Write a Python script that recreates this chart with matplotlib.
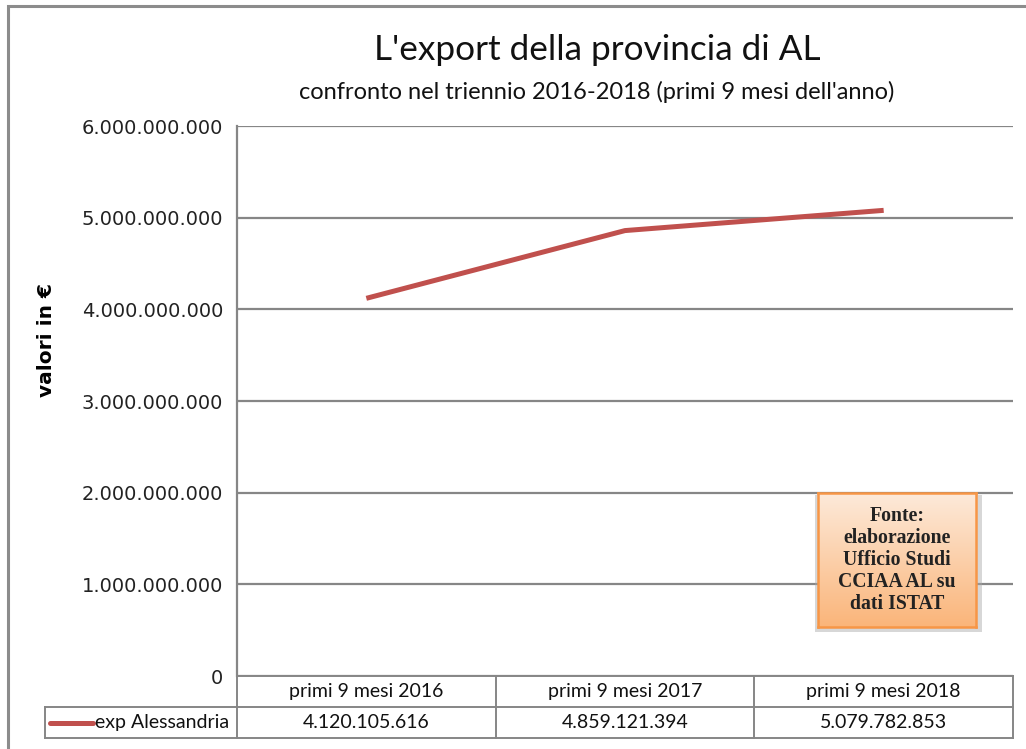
import matplotlib
matplotlib.use("Agg")
import matplotlib.pyplot as plt
import numpy as np
from matplotlib.lines import Line2D
from matplotlib.patches import Rectangle

categories = ["primi 9 mesi 2016", "primi 9 mesi 2017", "primi 9 mesi 2018"]
values = [4120105616, 4859121394, 5079782853]
value_labels = ["4.120.105.616", "4.859.121.394", "5.079.782.853"]
series_name = "exp Alessandria"
y_ticks = [0, 1e9, 2e9, 3e9, 4e9, 5e9, 6e9]
y_tick_labels = ["0", "1.000.000.000", "2.000.000.000", "3.000.000.000",
                 "4.000.000.000", "5.000.000.000", "6.000.000.000"]

W, H = 1026, 749
fig = plt.figure(figsize=(W / 100, H / 100), dpi=100)

def fx(px):
    return px / W

def fy(py):
    return 1 - py / H

narrow = ['Lato', 'DejaVu Sans']
grid_c = '#868686'
line_c = '#C0504D'

# outer chart border
fig.patches.append(Rectangle((fx(8), fy(760)), fx(1040) - fx(8), fy(6) - fy(760),
                             transform=fig.transFigure, fill=False,
                             edgecolor='#8c8c8c', lw=2.2, zorder=0))

x0, x1, ytop, ybot = 237, 1013, 126, 676
ax = fig.add_axes([fx(x0), fy(ybot), fx(x1) - fx(x0), fy(ytop) - fy(ybot)])
xs = np.arange(len(categories))
ax.plot(xs, values, color=line_c, lw=3.6, solid_capstyle='butt', solid_joinstyle='round', zorder=3)
ax.set_xlim(-0.5, len(categories) - 0.5)
ax.set_ylim(0, 6e9)
ax.set_yticks(y_ticks)
ax.set_yticklabels(y_tick_labels, fontsize=14, color='#222222', family='DejaVu Sans')
ax.set_xticks([])
for y in y_ticks:
    ax.axhline(y, color=grid_c, lw=1.6, zorder=1)
for s in ['top', 'right', 'bottom']:
    ax.spines[s].set_visible(False)
ax.spines['left'].set_color(grid_c)
ax.spines['left'].set_linewidth(1.6)
ax.tick_params(axis='y', length=0, pad=10)
ax.set_ylabel("valori in €", fontsize=14.5, fontweight='bold', family='DejaVu Sans')
ax.yaxis.set_label_coords((56 - x0) / (x1 - x0), 1 - (340 - ytop) / (ybot - ytop))

# data table
def fline(xa, xb, ya, yb, **kw):
    fig.add_artist(Line2D([fx(xa), fx(xb)], [fy(ya), fy(yb)], transform=fig.transFigure,
                          color=grid_c, lw=1.4, **kw))

row1_top, row2_top, row2_bot = 676, 707, 738
leg_left = 45
fline(x0, x0, ybot, row2_bot)
fline(x0, x1, row1_top, row1_top)
fline(leg_left, x1, row2_top, row2_top)
fline(leg_left, x1, row2_bot, row2_bot)
fline(leg_left, leg_left, row2_top, row2_bot)
col_w = (x1 - x0) / len(categories)
for i in range(1, len(categories) + 1):
    xc = x0 + i * col_w
    fline(xc, xc, row1_top, row2_bot)
for i, (c, v) in enumerate(zip(categories, value_labels)):
    xc = x0 + (i + 0.5) * col_w
    fig.text(fx(xc), fy((row1_top + row2_top) / 2), c, ha='center', va='center',
             fontsize=14, family=narrow, color='#111111')
    fig.text(fx(xc), fy((row2_top + row2_bot) / 2), v, ha='center', va='center',
             fontsize=14, family=narrow, color='#111111')
ly = (row2_top + row2_bot) / 2
fig.add_artist(Line2D([fx(50), fx(93)], [fy(ly), fy(ly)], transform=fig.transFigure,
                      color=line_c, lw=3.6, solid_capstyle='round'))
fig.text(fx(95), fy(ly), series_name, ha='left', va='center', fontsize=14,
         family=narrow, color='#111111')

# titles
fig.text(fx(597), fy(50), "L'export della provincia di AL", ha='center', va='center',
         fontsize=25.3, family=narrow, color='#111111')
fig.text(fx(597), fy(92), "confronto nel triennio 2016-2018 (primi 9 mesi dell'anno)",
         ha='center', va='center', fontsize=17, family=narrow, color='#111111')

# source box with gradient
bx0, bx1, by0, by1 = 818, 976, 493, 627
fig.patches.append(Rectangle((fx(bx0 - 3), fy(by1 + 5)), fx(bx1 + 6) - fx(bx0 - 3),
                             fy(by0 + 2) - fy(by1 + 5),
                             transform=fig.transFigure, facecolor='#a8a8a8', alpha=0.45,
                             edgecolor='none', zorder=4))
bax = fig.add_axes([fx(bx0), fy(by1), fx(bx1) - fx(bx0), fy(by0) - fy(by1)], zorder=5)
top_c = np.array([0xFD, 0xEA, 0xDA]) / 255
bot_c = np.array([0xFA, 0xB5, 0x7A]) / 255
t = np.linspace(0, 1, 100)[:, None]
grad = (top_c[None, :] * (1 - t) + bot_c[None, :] * t)[:, None, :]
bax.imshow(grad, aspect='auto', extent=[0, 1, 0, 1])
bax.set_xticks([])
bax.set_yticks([])
for s in bax.spines.values():
    s.set_color('#F79646')
    s.set_linewidth(1.8)
bax.text(0.5, 0.5, "Fonte:\nelaborazione\nUfficio Studi\nCCIAA AL su\ndati ISTAT",
         ha='center', va='center', fontsize=14.2, fontweight='bold',
         family=['Liberation Serif', 'DejaVu Serif'], color='#222222',
         linespacing=1.12, transform=bax.transAxes)

fig.savefig("out.png", dpi=100)
